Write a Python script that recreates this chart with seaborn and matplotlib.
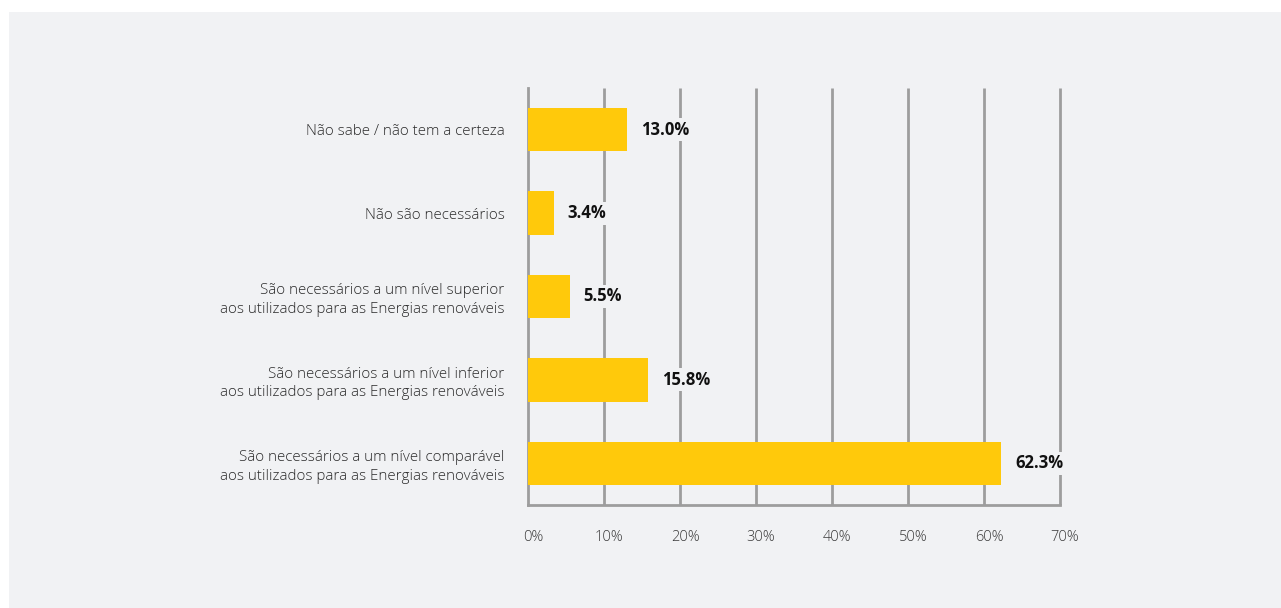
import matplotlib
matplotlib.use("Agg")
import matplotlib.pyplot as plt
import matplotlib.transforms as mtransforms
from matplotlib.patches import Rectangle
import seaborn as sns
import pandas as pd

categories = [
    "Não sabe / não tem a certeza",
    "Não são necessários",
    "São necessários a um nível superior\naos utilizados para as Energias renováveis",
    "São necessários a um nível inferior\naos utilizados para as Energias renováveis",
    "São necessários a um nível comparável\naos utilizados para as Energias renováveis",
]
values = [13.0, 3.4, 5.5, 15.8, 62.3]
x_ticks = [0, 10, 20, 30, 40, 50, 60, 70]
x_tick_labels = ["0%", "10%", "20%", "30%", "40%", "50%", "60%", "70%"]

PANEL = "#f1f2f4"
BAR = "#ffc90b"
GRID = "#9d9d9d"
TEXT = "#2a2a2a"

sns.set_theme(style="white")
plt.rcParams["font.family"] = ["Open Sans", "DejaVu Sans"]

W, H = 1281, 608
fig = plt.figure(figsize=(W / 100, H / 100), dpi=100)
fig.patch.set_facecolor("white")
fig.add_artist(Rectangle((9 / W, 0), 1 - 9 / W, 1 - 12 / H,
                         transform=fig.transFigure, facecolor=PANEL,
                         edgecolor="none", zorder=0))

left, right, top, bottom = 528, 1060, 88, 505
ax = fig.add_axes([left / W, 1 - bottom / H, (right - left) / W, (bottom - top) / H])
ax.set_facecolor("none")

df = pd.DataFrame({"category": categories, "value": values})
sns.barplot(data=df, x="value", y="category", orient="h", color=BAR,
            width=0.52, saturation=1, linewidth=0, ax=ax, zorder=3)

ax.set_xlim(0, 70)
ax.set_ylim(len(categories) - 0.5, -0.5)

# vertical grid lines drawn behind the bars
ax.vlines(x_ticks[1:], -0.5, len(categories) - 0.5, colors=GRID,
          linewidth=2, zorder=1, clip_on=False)

for side in ["top", "right"]:
    ax.spines[side].set_visible(False)
for side in ["left", "bottom"]:
    ax.spines[side].set_color(GRID)
    ax.spines[side].set_linewidth(2)
    ax.spines[side].set_zorder(2)

ax.set_xticks(x_ticks)
ax.set_xticklabels(x_tick_labels)
ax.tick_params(axis="x", direction="out", length=5, width=2, color=GRID,
               pad=13, labelsize=10.5, labelcolor="#3a3a3a")
for lbl in ax.get_xticklabels():
    lbl.set_fontweight("light")
    lbl.set_transform(lbl.get_transform() + mtransforms.ScaledTranslation(5 / 100, 0, fig.dpi_scale_trans))

ax.set_yticks(range(len(categories)))
ax.set_yticklabels(categories)
ax.set_yticks([i - 0.5 for i in range(len(categories) + 1)], minor=True)
ax.tick_params(axis="y", which="major", length=0, pad=17, labelsize=10.9,
               labelcolor=TEXT)
ax.tick_params(axis="y", which="minor", direction="out", length=5, width=2,
               color=GRID)
for lbl in ax.get_yticklabels():
    lbl.set_linespacing(1.3)
    lbl.set_fontweight("light")

ax.set_xlabel("")
ax.set_ylabel("")

for i, v in enumerate(values):
    ax.annotate(f"{v:.1f}%", xy=(v, i), xytext=(10, 0), textcoords="offset points",
                ha="left", va="center", fontsize=12, fontweight="bold",
                color="#111111", zorder=4,
                bbox=dict(boxstyle="square,pad=0.15", facecolor=PANEL, edgecolor="none"))

fig.savefig("out.png", dpi=100)
